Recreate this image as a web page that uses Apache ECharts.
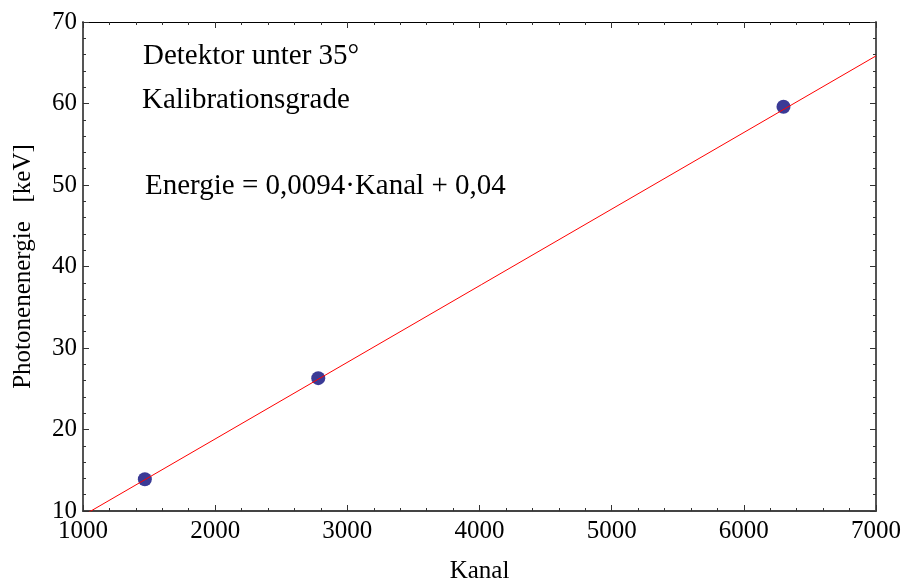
<!DOCTYPE html>
<html>
<head>
<meta charset="utf-8">
<script src="https://cdn.jsdelivr.net/npm/echarts@6/dist/echarts.min.js"></script>
<style>
  html, body { margin: 0; padding: 0; background: #fff; }
  #chart { width: 907px; height: 586px; }
</style>
</head>
<body>
<div id="chart"></div>
<script>
// measured calibration points
const kanal = [1468, 2780, 6300]
const energie = [13.9, 26.3, 59.6]

// fitted line end points (Energie = 0,0094*Kanal + 0,04)
const fitKanal = [1000, 7000]
const fitEnergie = [9.44, 65.84]

const xTicks = [1000, 2000, 3000, 4000, 5000, 6000, 7000]
const yTicks = [10, 20, 30, 40, 50, 60, 70]

const font = 'Liberation Serif'

let chart = echarts.init(document.getElementById('chart'))

let axisBase = {
  type: 'value',
  axisTick: { show: true, inside: true, length: 6, lineStyle: { color: '#333', width: 1 } },
  minorTick: { show: true, splitNumber: 5, length: 3, lineStyle: { color: '#333', width: 1 } },
  splitLine: { show: false },
  minorSplitLine: { show: false },
}

let option = {
  animation: false,
  backgroundColor: '#fff',
  grid: { left: 83, right: 31, top: 22, bottom: 75, outerBoundsMode: 'none', containLabel: false },
  xAxis: [
    Object.assign({}, axisBase, {
      position: 'bottom',
      min: xTicks[0],
      max: xTicks[xTicks.length - 1],
      interval: 1000,
      axisLine: { show: true, lineStyle: { color: '#444', width: 2 } },
      axisLabel: { color: '#000', fontFamily: font, fontSize: 25, margin: 8, formatter: (v) => String(v) },
      name: 'Kanal',
      nameLocation: 'middle',
      nameGap: 48,
      nameTextStyle: { color: '#000', fontFamily: font, fontSize: 25 },
    }),
    Object.assign({}, axisBase, {
      position: 'top',
      min: xTicks[0],
      max: xTicks[xTicks.length - 1],
      interval: 1000,
      axisLine: { show: true, lineStyle: { color: '#000', width: 1 } },
      axisLabel: { show: false },
    }),
  ],
  yAxis: [
    Object.assign({}, axisBase, {
      position: 'left',
      min: yTicks[0],
      max: yTicks[yTicks.length - 1],
      interval: 10,
      axisLine: { show: true, lineStyle: { color: '#555', width: 2 } },
      axisLabel: { color: '#000', fontFamily: font, fontSize: 25, margin: 6 },
      name: 'Photonenenergie   [keV]',
      nameLocation: 'middle',
      nameGap: 47,
      nameTextStyle: { color: '#000', fontFamily: font, fontSize: 25 },
    }),
    Object.assign({}, axisBase, {
      position: 'right',
      min: yTicks[0],
      max: yTicks[yTicks.length - 1],
      interval: 10,
      axisLine: { show: true, lineStyle: { color: '#555', width: 2 } },
      axisLabel: { show: false },
    }),
  ],
  graphic: [
    { type: 'text', x: 143, y: 56, style: { text: 'Detektor unter 35°', font: '29px "Liberation Serif"', fill: '#000', verticalAlign: 'middle' } },
    { type: 'text', x: 142, y: 100, style: { text: 'Kalibrationsgrade', font: '29px "Liberation Serif"', fill: '#000', verticalAlign: 'middle' } },
    { type: 'text', x: 145, y: 186, style: { text: 'Energie = 0,0094·Kanal + 0,04', font: '29px "Liberation Serif"', fill: '#000', verticalAlign: 'middle' } },
  ],
  series: [
    {
      type: 'line',
      data: fitKanal.map((k, i) => [k, fitEnergie[i]]),
      showSymbol: false,
      clip: true,
      lineStyle: { color: '#ff0000', width: 1 },
      z: 3,
    },
    {
      type: 'scatter',
      data: kanal.map((k, i) => [k, energie[i]]),
      symbolSize: 14,
      itemStyle: { color: '#3a3a96', opacity: 1 },
      z: 2,
    },
  ],
}

chart.setOption(option)
</script>
</body>
</html>
